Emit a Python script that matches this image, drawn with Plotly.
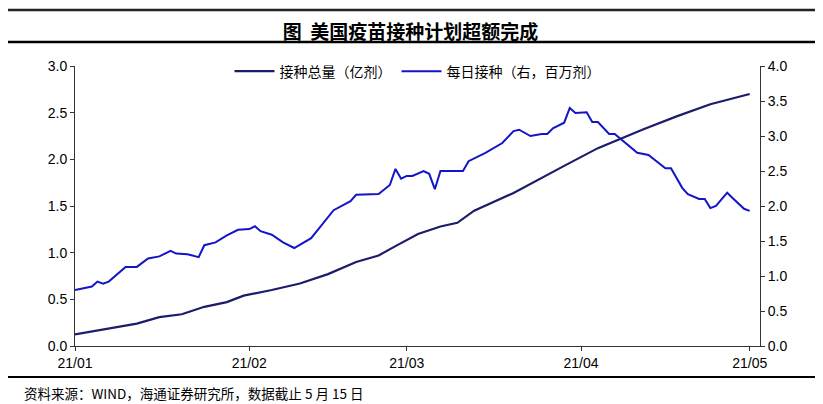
import plotly.graph_objects as go

total_dates = ["2021-01-01", "2021-01-06", "2021-01-10", "2021-01-12", "2021-01-16", "2021-01-20",
               "2021-01-24", "2021-01-28", "2021-01-31", "2021-02-05", "2021-02-10", "2021-02-15",
               "2021-02-20", "2021-02-24", "2021-02-27", "2021-03-03", "2021-03-07", "2021-03-10",
               "2021-03-13", "2021-03-20", "2021-03-29", "2021-04-04", "2021-04-12", "2021-04-18",
               "2021-04-24", "2021-05-01"]
total_doses = [0.124, 0.178, 0.224, 0.24, 0.31, 0.34, 0.42, 0.47, 0.54, 0.60, 0.67, 0.77,
               0.90, 0.97, 1.07, 1.20, 1.28, 1.32, 1.45, 1.64, 1.93, 2.12, 2.32, 2.46,
               2.59, 2.70]

daily_dates = ["2021-01-01", "2021-01-04", "2021-01-05", "2021-01-06", "2021-01-07", "2021-01-10",
               "2021-01-12", "2021-01-14", "2021-01-16", "2021-01-18", "2021-01-19", "2021-01-21",
               "2021-01-23", "2021-01-24", "2021-01-26", "2021-01-28", "2021-01-30", "2021-02-01",
               "2021-02-02", "2021-02-03", "2021-02-05", "2021-02-07", "2021-02-09", "2021-02-12",
               "2021-02-16", "2021-02-19", "2021-02-20", "2021-02-23", "2021-02-24", "2021-02-26",
               "2021-02-27", "2021-02-28", "2021-03-01", "2021-03-02", "2021-03-04", "2021-03-05",
               "2021-03-06", "2021-03-07", "2021-03-11", "2021-03-12", "2021-03-15", "2021-03-18",
               "2021-03-20", "2021-03-21", "2021-03-23", "2021-03-25", "2021-03-26", "2021-03-27",
               "2021-03-29", "2021-03-30", "2021-03-31", "2021-04-02", "2021-04-03", "2021-04-04",
               "2021-04-06", "2021-04-07", "2021-04-09", "2021-04-11", "2021-04-13", "2021-04-14",
               "2021-04-16", "2021-04-17", "2021-04-19", "2021-04-20", "2021-04-22", "2021-04-23",
               "2021-04-24", "2021-04-25", "2021-04-27", "2021-04-28", "2021-04-30", "2021-05-01"]
daily_doses = [0.80, 0.85, 0.92, 0.89, 0.92, 1.13, 1.13, 1.25, 1.28, 1.36, 1.32, 1.31,
               1.27, 1.44, 1.48, 1.58, 1.66, 1.67, 1.71, 1.64, 1.59, 1.48, 1.40, 1.54,
               1.94, 2.07, 2.16, 2.17, 2.17, 2.30, 2.53, 2.39, 2.43, 2.43, 2.50, 2.46,
               2.24, 2.50, 2.50, 2.64, 2.76, 2.90, 3.07, 3.09, 3.00, 3.03, 3.03, 3.11,
               3.19, 3.40, 3.33, 3.34, 3.20, 3.20, 3.03, 3.03, 2.89, 2.76, 2.73, 2.67,
               2.54, 2.54, 2.26, 2.17, 2.10, 2.10, 1.97, 2.00, 2.19, 2.11, 1.96, 1.93]

tick_vals = ["2021-01-01", "2021-02-01", "2021-03-01", "2021-04-01", "2021-05-01"]
tick_text = ["21/01", "21/02", "21/03", "21/04", "21/05"]

fig = go.Figure()
fig.add_trace(go.Scatter(x=total_dates, y=total_doses, name="接种总量（亿剂）", mode="lines",
                         line=dict(color="#1c1c6b", width=2.2)))
fig.add_trace(go.Scatter(x=daily_dates, y=daily_doses, name="每日接种（右，百万剂）", mode="lines",
                         line=dict(color="#1414c8", width=2), yaxis="y2"))

fig.update_layout(
    width=823, height=404, plot_bgcolor="white", paper_bgcolor="white",
    font=dict(family="Liberation Sans, Noto Sans CJK SC", size=14, color="black"),
    margin=dict(l=67, r=71, t=58, b=66),
    title=dict(text="<b>图  美国疫苗接种计划超额完成</b>", x=0.489, xanchor="center", y=0.955,
               font=dict(family="Noto Sans CJK SC", size=19)),
    xaxis=dict(type="date", range=["2021-01-01", "2021-05-02 20:00"], tickvals=tick_vals,
               ticktext=tick_text, showline=True, linecolor="#333", ticks="outside", ticklen=4,
               tickcolor="#333", showgrid=False),
    yaxis=dict(range=[0, 3], dtick=0.5, tickformat=".1f", showline=True, linecolor="#333",
               ticks="outside", ticklen=4, tickcolor="#333", showgrid=False),
    yaxis2=dict(range=[0, 4], dtick=0.5, tickformat=".1f", overlaying="y", side="right",
                showline=True, linecolor="#333", ticks="outside", ticklen=4, tickcolor="#333",
                showgrid=False),
    legend=dict(orientation="h", x=0.5, xanchor="center", y=0.98, yanchor="middle",
                font=dict(family="Noto Sans CJK SC", size=14), bgcolor="rgba(0,0,0,0)",
                itemwidth=40, tracegroupgap=30),
    shapes=[
        dict(type="line", xref="paper", yref="paper", x0=-0.098, x1=1.088, y0=1.2, y1=1.2,
             line=dict(color="#222", width=2.5)),
        dict(type="line", xref="paper", yref="paper", x0=-0.098, x1=1.088, y0=1.086, y1=1.086,
             line=dict(color="black", width=2.5)),
        dict(type="line", xref="paper", yref="paper", x0=-0.098, x1=1.088, y0=-0.111, y1=-0.111,
             line=dict(color="black", width=2)),
    ],
    annotations=[dict(text="资料来源：WIND，海通证券研究所，数据截止 5 月 15 日", xref="paper", yref="paper",
                      x=-0.077, y=-0.125, xanchor="left", yanchor="top", showarrow=False,
                      font=dict(family="Noto Sans CJK SC", size=13.5))],
)
fig.write_html("out.html")
